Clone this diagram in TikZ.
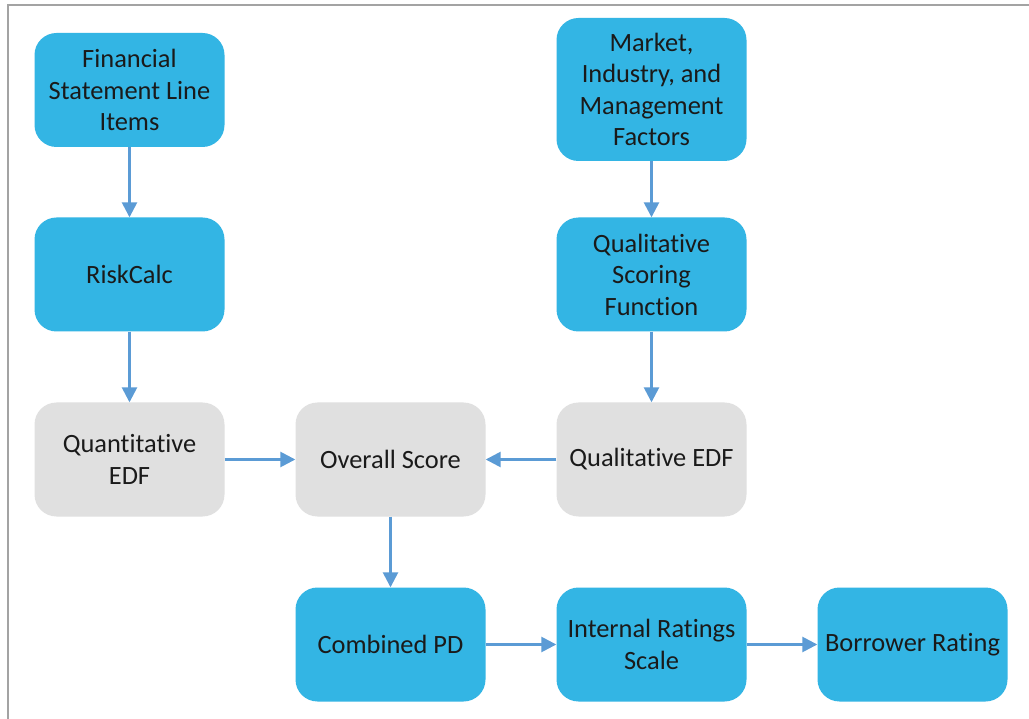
\documentclass[tikz,border=0pt]{standalone}
\usepackage{fontspec}
\setmainfont{Carlito}[Ligatures={NoCommon}]
\usetikzlibrary{arrows.meta,backgrounds,calc}
\definecolor{boxblue}{HTML}{33B5E4}
\definecolor{boxgray}{HTML}{E0E0E0}
\definecolor{linkblue}{HTML}{5B9BD5}
\definecolor{framegray}{HTML}{A3A3A3}
\definecolor{txt}{HTML}{1A1A1A}
\definecolor{shade}{HTML}{4A6E9A}
\tikzset{
  x=1pt,y=1pt,
  card/.style={rounded corners=22pt, minimum width=190pt, minimum height=114pt,
    inner sep=0pt, align=center, text=txt,
    font=\fontsize{26.4}{31.5}\selectfont},
  bluecard/.style={card, fill=boxblue},
  graycard/.style={card, fill=boxgray},
  link/.style={draw=linkblue, line width=2.6pt,
    -{Triangle[length=15pt,width=15pt]}}
}
\begin{document}
\begin{tikzpicture}
\useasboundingbox (0,0) rectangle (1029,-719);
\fill[white] (0,0) rectangle (1029,-719);
% outer frame (left and top edges)
\draw[framegray, line width=2pt] (8,-740) -- (8,-5) -- (1040,-5);

% first row
\node[bluecard] (fin) at (129.5,-90) {Financial\\Statement Line\\Items};
\node[bluecard, minimum height=143pt] (mkt) at (651.5,-89.5) {Market,\\Industry, and\\Management\\Factors};
% second row
\node[bluecard] (rc) at (129.5,-274.5) {RiskCalc};
\node[bluecard] (qsf) at (651.5,-274.5) {Qualitative\\Scoring\\Function};
% third row
\node[graycard] (qnt) at (129.5,-459.5) {Quantitative\\EDF};
\node[graycard] (ovr) at (390.5,-459.5) {Overall Score};
\node[graycard] (qle) at (651.5,-459.5) {Qualitative EDF};
% fourth row
\node[bluecard] (cpd) at (390.5,-644.5) {Combined PD};
\node[bluecard] (irs) at (651.5,-644.5) {Internal Ratings\\Scale};
\node[bluecard] (brw) at (912.5,-644.5) {Borrower Rating};

% soft shadows behind the cards
\begin{scope}[on background layer]
  \foreach \n in {fin,mkt,rc,qsf,qnt,ovr,qle,cpd,irs,brw}{
    \foreach \k in {1,2,3,4,5}{
      \fill[shade, opacity=0.035, rounded corners=22pt]
        ($(\n.south west)+(-\k,-\k-1.5)$) rectangle ($(\n.north east)+(\k,\k-1.5)$);
    }
  }
\end{scope}

% connectors
\draw[link] (fin) -- (rc);
\draw[link] (rc) -- (qnt);
\draw[link] (mkt) -- (qsf);
\draw[link] (qsf) -- (qle);
\draw[link] (qnt) -- (ovr);
\draw[link] (qle) -- (ovr);
\draw[link] (ovr) -- (cpd);
\draw[link] (cpd) -- (irs);
\draw[link] (irs) -- (brw);
\end{tikzpicture}
\end{document}
